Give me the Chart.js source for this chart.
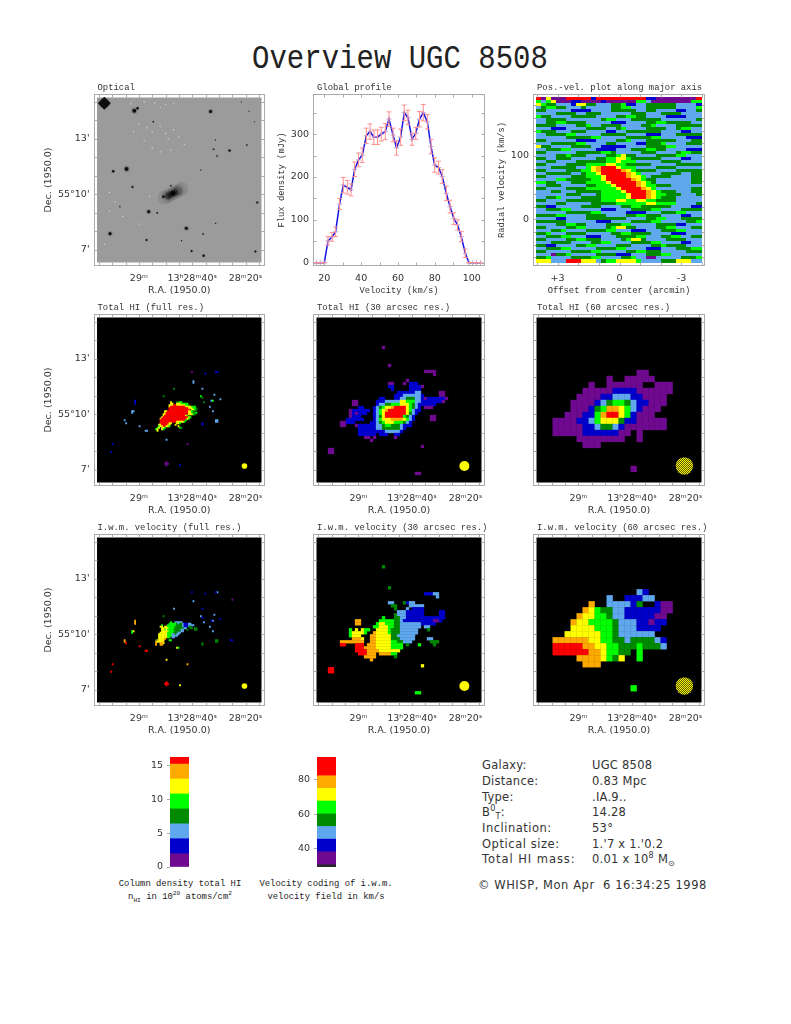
<!DOCTYPE html>
<html>
<head>
<meta charset="utf-8">
<title>Overview UGC 8508</title>
<script src="https://cdn.jsdelivr.net/npm/chart.js@4"></script>
<style>
  body { margin: 0; background: #fff; width: 791px; height: 1024px; overflow: hidden; }
  canvas { position: absolute; }
  .t { position: absolute; white-space: pre; color: #333; font-family: "DejaVu Sans", sans-serif; line-height: 14px; }
  .info { font-size: 11.5px; letter-spacing: .25px; }
  .cap { font: 8.9px/14px "Liberation Mono", monospace; color: #222; text-align: center; width: 180px; }
  sup, sub { font-size: 70%; line-height: 0; }
  #main { left: 0; width: 800px; top: 41px; text-align: center; font: 29px/38px "Liberation Mono", monospace; color: #222; transform: scaleY(1.12); }
</style>
</head>
<body>
<div class="t" id="main">Overview UGC 8508</div>

<div class="t info" style="left:482px;top:758px">Galaxy:</div>
<div class="t info" style="left:592px;top:758px">UGC 8508</div>
<div class="t info" style="left:482px;top:774px">Distance:</div>
<div class="t info" style="left:592px;top:774px">0.83 Mpc</div>
<div class="t info" style="left:482px;top:790px">Type:</div>
<div class="t info" style="left:592px;top:790px">.IA.9..</div>
<div class="t info" style="left:482px;top:805px">B<sup>0</sup><sub>T</sub>:</div>
<div class="t info" style="left:592px;top:805px">14.28</div>
<div class="t info" style="left:482px;top:821px;letter-spacing:.5px">Inclination:</div>
<div class="t info" style="left:592px;top:821px">53°</div>
<div class="t info" style="left:482px;top:837px;letter-spacing:.55px">Optical size:</div>
<div class="t info" style="left:592px;top:837px">1.'7 x 1.'0.2</div>
<div class="t info" style="left:482px;top:852px;letter-spacing:.95px">Total HI mass:</div>
<div class="t info" style="left:592px;top:852px">0.01 x 10<sup>8</sup> M<sub>⊙</sub></div>
<div class="t info" style="left:478px;top:878px;letter-spacing:.55px">© WHISP, Mon Apr  6 16:34:25 1998</div>

<div class="t cap" style="left:90px;top:877px">Column density total HI</div>
<div class="t cap" style="left:90px;top:890px">n<sub>HI</sub> in 10<sup>20</sup> atoms/cm<sup>2</sup></div>
<div class="t cap" style="left:236px;top:877px">Velocity coding of i.w.m.</div>
<div class="t cap" style="left:236px;top:890px">velocity field in km/s</div>

<script>
// colour codes used in the map strings below
const codeColors = { 1: "#6f0a90", 2: "#0000cc", 3: "#60a8ee", 4: "#008a00", 5: "#00ff00", 6: "#ffff00", 7: "#ffaa00", 8: "#ff0000" };

// global profile
const velocity = [15.8,17.8,20,22,24.2,26.1,28.3,30.3,32.5,34.5,36.5,38.6,40.6,42.8,44.8,46.9,48.9,50.9,53.1,55.1,57.3,59.2,61.4,63.4,65.4,67.6,69.6,71.7,73.7,75.9,77.9,79.9,82,84,86.2,88.2,90.3,92.3,94.3,96.5,98.5,100.6,102.6,104.8];
const flux = [0,0,0,51,60,72,137,181,176,170,218,240,251,296,306,293,293,300,306,335,298,268,293,350,339,288,302,335,350,329,271,228,222,201,162,131,103,88,61,22,0,0,0,0];
const fluxErr = [0,0,0,10,10,11,13,18,16,14,17,16,17,18,18,17,17,16,19,17,16,17,19,18,17,14,14,18,19,17,17,17,15,16,17,15,14,12,12,10,0,0,0,0];

// optical image: stars as RA seconds past 13h28m, Dec arcmin past 55 deg
const starRa = [72.95,61.7,60.5,33.1,54.6,31.3,26,32,30.7,19.5,64.6,69.6,36.8,62.4,48,50.8,56.3,53.1,15.6,42.2,31.2,35.9,70.8,57.1,44,40.2,35.7,16.3,67.1,21.6,18.7,16.6];
const starDec = [14.93,14.53,14.66,14.49,13.93,12.94,12.37,12.44,12.08,12.67,11.38,11.25,11.32,10.4,10.47,9.88,9.07,9,9.57,8.17,8.44,7.86,7.88,7.54,7.5,6.94,6.69,6.91,9.34,15,14.5,13.93];
const starSize = [3.5,2,1.2,1.6,.8,.6,1.2,.8,.8,.8,2,1.2,.6,1,.8,1.2,1.6,.8,1,1.6,.6,.8,1.6,1,.6,1,1.2,1,.6,.5,.5,.5];
const galaxyRa = [50.3,49,47.8,46.5,45.3,44];
const galaxyDec = [9.83,9.92,10.02,10.1,10.2,10.3];
const hotRa = [63,58,54,52,50,47,60,57,55,52,50,49,47,45,43,62,58,55,52,48,71,69,71,66,60,56,72.9];
const hotDec = [14.9,15,14.95,14.7,14.85,14.9,13.8,13.6,13.4,13.7,13.3,13,13.5,13.1,12.7,13.4,12.9,12.5,12.3,12.4,10.1,9.6,9.1,8.8,8.4,9.9,7.3];

// position-velocity slice, one string per velocity row
const pvRows = [
"816111888882888888888822111111118","535611122111121111115531111111155","654433326644333445223344444433332",
"345544333433333445533344444433335","443333322223333444443344333322334","333344443344433333344433344443333",
"544333344444333344554433332222333","334444333333345533344444433333334","334455444433333222333344554444433",
"444433334453344443333445333344444","333222333344443345333344443345533","544433344433332233444444433332233",
"334444553333344444333322233344444","333333444445533333444445533333222","443333332222333344533344444433344",
"333444445533334433332244453333444","644333344443322222333344445533333","334445533333222233344455443333222",
"443333334444455433333444333345544","333344544433334456443333444455333","443344433333445566544444433332233",
"334433334444445565553333344443333","443333444455556655444443333344444","333444443356788865553333444433333",
"443333444556788887654444333344444","334444433455688888765333344443344","443333344455568888766534444333344",
"333355444445568888876544333333344","554433344455556888887654333333344","334443333344555688887655444333333",
"443333444455555568888765333333344","333443334444455556888876544433344","333333444333455555688876554443334",
"334453333444455555688876544433333","443333444444455566556655444433333","333344333334444455555566555533334",
"442233333444433334455444444333322","334445533333322233344445533334444","333333444445533333222233344455333",
"444455333344443333445544433332233","333322333344444444333344553334444","444444333333222333344445533333445",
"333344554433334445533333444422333","443333445533334566443333445533344","333445333344445533322233344455333",
"445333444433333445544443333222333","334445533322233344445533344553344","443333445544433334566433334444333",
"333444433334455333344445533332233","442233334455333344433334454444333","334445533333444455333322233344455",
"443333344445533333445544433333444","333144533333444422233344455333333","445333344445533334453311333334445",
"666333888666345566665333344466633"];

// total HI maps
const coreTotal = [
"..........6...4455","..........66..66655555",".........66688666666554",".........688888888886666555",
".........8888888888888666554",".........88888888888888.6654","......66888888888888886654","......6888888888888888665.55",
".....6688888888888888866654",".....68888888888888865","....68888888888888888865","...68888888888888888865",
"...888888888888888885","...88888888888666665","...88888866...665","..66888876...6","..56688665.....6",
".56.665.........54","56..65",".6"];
const specksTotal = [[63,36,1],[72,37,2],[80,36,2],[79,36,2],[64,42,3],[64,43,3],[70,47,3],[51,47,4],[44,52,4],[69,52,5],[70,53,4],[71,56,4],[78,51,3],[82,54,3],[76,55,3],[77,55,5],[75,59,3],[77,62,3],[25,55,2],[25,56,2],[25,57,2],[23,62,3],[23,63,3],[24,62,3],[18,68,3],[19,70,3],[28,72,3],[32,75,3],[33,75,3],[46,81,3],[70,70,2],[70,71,2],[79,68,3],[80,68,3],[79,69,3],[80,69,3],[60,84,1],[10,84,2],[9,89,2],[46,96,1],[45,97,1],[46,97,1],[47,97,1],[46,98,1],[55,98,2]];
const map30 = [
"..................1","","","","","","....................1","",
"................................1111","...................................1","",
"..........................1","....................11...1.222","....................22.....22221",
".....................2.....2222",".......................22222233......11","......................2223333332.....11",
".................22...223344433212222221","........11......22233333665553322222221","........11......23344555666543222222",
"..........22...2345667888865432.111",".......1222222.2356788888865322",".......121222..235688888886432",
".......1222....23468888885432.....11","......222222...23566677776532.....11","....11222.....22345666555432",
"....11...1222222334554443222","..........2222223344444432","..........222222222333332","..........222222.222..22",
"............11.1......1","..............1","","...............................1","11","11","","","","","","",".............................11"];
const map60 = [
"..............11",".........1..11111","......1..111111..111",".....111112222111111","....1111223332" + "21111",
"...1111234554322111","...111245776532111","..111225788652111","1111223566642211111","1111122344321111111",
"1111122222211.1","....11111111..1",".....111","","","",".............1"];

// velocity maps
const coreVel = [
"..........5..33333",".........555554344322233","....5...555555444432223333","...66.665555544444322244",
"....66666555544444433..44","....665655554444433..4","....666665555444433","...66666555544433","..66666655533433",
"..6666665553333","..66666655.33","..66667","476666...55","766667","7..776","7..77","","..............65"];
const specksVel = [[63,36,2],[72,37,2],[80,36,3],[79,36,2],[90,41,1],[64,42,3],[51,47,3],[44,52,4],[70,47,2],[69,52,3],[70,53,2],[78,51,3],[77,55,3],[76,55,2],[71,56,3],[82,54,2],[75,59,3],[77,62,3],[65,60,4],[65,61,4],[66,60,4],[66,61,4],[70,70,4],[70,71,4],[79,68,4],[80,68,4],[79,69,4],[80,69,4],[89,68,2],[90,68,2],[25,55,7],[25,56,7],[25,57,7],[23,62,5],[23,63,5],[24,62,6],[18,68,7],[18,69,7],[19,70,8],[28,72,8],[32,75,8],[33,75,8],[10,84,8],[9,89,8],[46,81,6],[60,84,7],[46,96,8],[45,97,8],[46,97,8],[47,97,8],[46,98,8],[55,98,6]];
const vel30 = [
"","..................4","","","","","","","....................4","",
"................................22233","....................................3","",
"....................33...4233",".....................44....33333","......................4...3.2222",
".......................333222222.....22","......................4333222222.....22","..................5...44332222222222222",
".........77......5555544322222222221" + "12",".........77.....566555443333333" + "22222",
"...............5566655443333333.33",".......5.6.655..66665444333333...4",".......566665..766665444333333",
".......5666...776666644333333","........7776..776666644433333....33","....77777777..7766666" + "5544333......444",
"....88...888.777666665555.4...5....4",".........888777766666" + "5555",".........888877776666666",
"..........888777.777755","............7777......4","..............7","","...............................6","88","88","","","","","","",".............................55"];
const vel60 = [
"..............32",".........3..22233","......7..333324..211",".....765443322222211","....766554332222211",
"...7665555433322122","...666655543332222","..666666554333333","77777766554434444" + "32","888887766554445" + "4443",
"8888887765544.5","....77776546..5",".....777","","","",".............5"];

// colour bars
const densityEdges = [0,1.96,4.16,6.36,8.56,10.76,12.96,15.16,16.2];
const densityColors = ["#6f0a90","#0000cc","#60a8ee","#008a00","#00ff00","#ffff00","#ffaa00","#ff0000"];
const densityTicks = [0,5,10,15];
const velEdges = [29.2,30.5,38.1,45.4,52.8,60.1,67.6,75,82.3,93.2];
const velColors = ["#2a2a2a","#6f0a90","#0000cc","#60a8ee","#008a00","#00ff00","#ffff00","#ffaa00","#ff0000"];
const velTicks = [40,60,80];

// axis ticks
const raTicks = [60,40,20];
const raLabels = { 60: "29ᵐ", 40: "13ʰ28ᵐ40ˢ", 20: "28ᵐ20ˢ" };
const raMinor = [75,70,65,60,55,50,45,40,35,30,25,20,15];
const decTicks = [13,10,7];
const decLabels = { 13: "13'", 10: "55°10'", 7: "7'" };
const decMinor = [15,14,13,12,11,10,9,8,7];

const textColor = "#333";
const tickFont = { family: "DejaVu Sans", size: 9.5 };
const sansLabel = { family: "DejaVu Sans", size: 9.5 };
const monoLabel = { family: "Liberation Mono", size: 8.8 };
Chart.defaults.animation = false;
Chart.defaults.events = [];

// frame, inner image block and small inward ticks
const framePlugin = {
  id: "frame",
  afterLayout(chart) {
    if (chart.titleBlock) { chart.titleBlock.left += 4; chart.titleBlock.right += 4; }
  },
  beforeDatasetsDraw(chart, args, opts) {
    if (!opts.image) return;
    const a = chart.chartArea, ctx = chart.ctx;
    ctx.fillStyle = opts.image;
    ctx.fillRect(a.left + 3.5, a.top + 3.5, a.width - 7, a.height - 7);
  },
  afterDraw(chart, args, opts) {
    const a = chart.chartArea, ctx = chart.ctx;
    const l = Math.round(a.left) + .5, t = Math.round(a.top) + .5, r = Math.round(a.right) - .5, b = Math.round(a.bottom) - .5;
    ctx.save();
    ctx.strokeStyle = "#aaa";
    ctx.lineWidth = 1;
    ctx.strokeRect(l, t, r - l, b - t);
    ctx.beginPath();
    (opts.xMinor || []).forEach(v => {
      const x = Math.round(chart.scales.x.getPixelForValue(v)) + .5;
      ctx.moveTo(x, b); ctx.lineTo(x, b - 3);
      ctx.moveTo(x, t); ctx.lineTo(x, t + 3);
    });
    (opts.yMinor || []).forEach(v => {
      const y = Math.round(chart.scales.y.getPixelForValue(v)) + .5;
      ctx.moveTo(l, y); ctx.lineTo(l + 3, y);
      ctx.moveTo(r, y); ctx.lineTo(r - 3, y);
    });
    ctx.stroke();
    ctx.restore();
  }
};

// one scatter dataset of square cells from a string grid, origin is the top left edge in data units
function gridCells(rows, ra0, dec0, dRa, dDec, side) {
  const data = [], colors = [];
  rows.forEach((row, r) => {
    [...row].forEach((ch, c) => {
      if (ch === ".") return;
      data.push({ x: ra0 - (c + .5) * dRa, y: dec0 - (r + .5) * dDec });
      colors.push(codeColors[ch]);
    });
  });
  return { data, pointStyle: "rect", pointRadius: (side + .3) / Math.SQRT2, pointBorderWidth: 0, pointBackgroundColor: colors };
}

function speckCells(specks, ra0, dec0, dRa, dDec, side) {
  return {
    data: specks.map(s => ({ x: ra0 - (s[0] + .5) * dRa, y: dec0 - (s[1] + .5) * dDec })),
    pointStyle: "rect", pointRadius: (side + .3) / Math.SQRT2, pointBorderWidth: 0,
    pointBackgroundColor: specks.map(s => codeColors[s[2]])
  };
}

function beam(radius, color) {
  return { data: [{ x: 20.4, y: 7.21 }], pointRadius: radius, pointBorderWidth: 0, pointBackgroundColor: color };
}

function axisScale(o) {
  return {
    type: "linear", min: o.min, max: o.max, reverse: !!o.reverse,
    grid: { display: false, drawTicks: false }, border: { display: false },
    afterBuildTicks(s) { s.ticks = o.ticks.map(v => ({ value: v })); },
    ticks: {
      display: !!o.labels, autoSkip: false, maxRotation: 0, minRotation: 0, padding: o.pad, color: textColor, font: tickFont,
      callback: v => (o.labels ? (o.labels[v] !== undefined ? o.labels[v] : String(v)) : "")
    },
    title: { display: !!o.title, text: o.title || "", color: textColor, font: o.titleFont || sansLabel, padding: { top: 0, bottom: o.titlePad || 0 } },
    afterFit(s) {
      o.afterFit(s);
      s.paddingLeft = s.paddingRight = s.paddingTop = s.paddingBottom = 0;
    }
  };
}

// one panel: frame at (fx, fy), 172 px square, w is room kept left of it for the y axis
function panel(fx, fy, w, titleText, datasets, o) {
  const cv = document.createElement("canvas");
  const left = Math.floor(fx - w), extra = fx - w - left;
  cv.width = w + 172 + 16; cv.height = 20 + 172 + 31;
  cv.style.left = left + "px"; cv.style.top = (fy - 20) + "px";
  cv.style.width = cv.width + "px"; cv.style.height = cv.height + "px";
  document.body.appendChild(cv);
  new Chart(cv, {
    type: "scatter",
    data: { datasets },
    options: {
      responsive: false, devicePixelRatio: 1,
      layout: { autoPadding: false, padding: { left: extra, right: 16 - extra, top: 0, bottom: 1 } },
      plugins: {
        legend: { display: false }, tooltip: { enabled: false },
        title: { display: true, text: titleText, align: "start", fullSize: false, color: textColor, font: { family: "Liberation Mono", size: 8.9, weight: "normal", lineHeight: 1.2 }, padding: { top: 8, bottom: 1.32 } },
        frame: { image: o.image, xMinor: o.xMinor, yMinor: o.yMinor }
      },
      scales: {
        x: axisScale(Object.assign({}, o.x, { pad: 7, afterFit(s) { s.height = 30; } })),
        y: axisScale(Object.assign({}, o.y, { pad: 4, afterFit(s) { s.width = w; } }))
      }
    },
    plugins: [framePlugin]
  });
}

const raAxis = { min: 12.7, max: 77, reverse: true, ticks: raTicks, labels: raLabels, title: "R.A. (1950.0)" };
const decAxis = { min: 6.13, max: 15.43, ticks: decTicks, labels: decLabels, title: "Dec. (1950.0)", titlePad: 5 };
const decBare = { min: 6.13, max: 15.43, ticks: decTicks };
const mapOpts = y => ({ image: "#000", xMinor: raMinor, yMinor: decMinor, x: raAxis, y });

// hatched beam of the 60 arcsec maps
function hatch() {
  const c = document.createElement("canvas");
  c.width = 2; c.height = 2;
  const g = c.getContext("2d");
  g.fillStyle = "#ffff00"; g.fillRect(0, 0, 2, 2);
  g.fillStyle = "#55550a"; g.fillRect(0, 0, 1, 1); g.fillRect(1, 1, 1, 1);
  return g.createPattern(c, "repeat");
}

// top row
const stars = [];
stars.push({ data: hotRa.map((x, i) => ({ x, y: hotDec[i] })), pointRadius: .6, pointBorderWidth: 0, pointBackgroundColor: "#e8e8e8" });
stars.push({ data: starRa.map((x, i) => ({ x, y: starDec[i] })), pointRadius: starSize.map(s => s * 1.7), pointBorderWidth: 0, pointBackgroundColor: "rgba(0,0,0,.13)" });
stars.push({ data: galaxyRa.map((x, i) => ({ x, y: galaxyDec[i] })), pointRadius: 7, pointBorderWidth: 0, pointBackgroundColor: "rgba(0,0,0,.09)" });
stars.push({ data: galaxyRa.slice(1, 5).map((x, i) => ({ x, y: galaxyDec[i + 1] })), pointRadius: 4.5, pointBorderWidth: 0, pointBackgroundColor: "rgba(0,0,0,.18)" });
stars.push({ data: galaxyRa.slice(1, 4).map((x, i) => ({ x, y: galaxyDec[i + 1] })), pointRadius: 3, pointBorderWidth: 0, pointBackgroundColor: "rgba(0,0,0,.4)" });
stars.push({ data: starRa.map((x, i) => ({ x, y: starDec[i] })), pointRadius: starSize, pointBorderWidth: 0, pointBackgroundColor: "#111" });
stars.push({ data: [{ x: starRa[0], y: starDec[0] }], pointStyle: "rectRot", pointRadius: 6.5, pointBorderWidth: 0, pointBackgroundColor: "#111" });
stars.push({ data: [{ x: 47.2, y: 10.06 }], pointRadius: 2.5, pointBorderWidth: 0, pointBackgroundColor: "#222" });
panel(93.5, 94, 50.5, "Optical", stars, { image: "#9b9b9b", xMinor: raMinor, yMinor: decMinor, x: raAxis, y: decAxis });

const errorBars = [];
velocity.forEach((v, i) => {
  errorBars.push({ x: v, y: flux[i] - fluxErr[i] }, { x: v, y: flux[i] + fluxErr[i] }, { x: NaN, y: NaN });
});
panel(313, 94, 37, "Global profile", [
  { data: errorBars, showLine: true, borderColor: "#ff9090", borderWidth: 1, pointStyle: "line", pointRadius: 2.4, pointBorderColor: "#ff9090", pointBorderWidth: 1 },
  { data: velocity.map((x, i) => ({ x, y: flux[i] })), showLine: true, tension: 0, borderColor: "#1515e6", borderWidth: 1.5, pointStyle: "cross", pointRadius: 2.6, pointBorderColor: "#b48ccf", pointBorderWidth: .8 }
], {
  xMinor: [20,30,40,50,60,70,80,90,100], yMinor: [0,50,100,150,200,250,300,350],
  x: { min: 13.87, max: 107.2, ticks: [20,40,60,80,100], labels: { 20: "20", 40: "40", 60: "60", 80: "80", 100: "100" }, title: "Velocity (km/s)", titleFont: monoLabel },
  y: { min: -7.7, max: 393.7, ticks: [0,100,200,300], labels: { 0: "0", 100: "100", 200: "200", 300: "300" }, title: "Flux density (mJy)", titleFont: monoLabel }
});

// position-velocity cells are wider than tall, so they use small canvases as point styles
const pvStyles = {};
Object.keys(codeColors).forEach(k => {
  const c = document.createElement("canvas");
  c.width = 6; c.height = 4;
  const g = c.getContext("2d");
  g.fillStyle = codeColors[k]; g.fillRect(0, 0, 6, 4);
  pvStyles[k] = c;
});
const pvData = [], pvPoint = [];
pvRows.forEach((row, r) => {
  [...row].forEach((ch, c) => {
    pvData.push({ x: 4.02 - (c + .5) * .2419, y: 192.5 - (r + .5) * 4.74 });
    pvPoint.push(pvStyles[ch]);
  });
});
panel(533, 94, 37, "Pos.-vel. plot along major axis", [{ data: pvData, pointStyle: pvPoint, pointRadius: 3, pointBorderWidth: 0 }], {
  image: "#60a8ee", xMinor: [4,3,2,1,0,-1,-2,-3,-4], yMinor: [180,160,140,120,100,80,60,40,20,0,-20,-40,-60],
  x: { min: -4.14, max: 4.19, reverse: true, ticks: [3,0,-3], labels: { 3: "+3", 0: "0", "-3": "-3" }, title: "Offset from center (arcmin)", titleFont: monoLabel },
  y: { min: -73.8, max: 198, ticks: [100,0], labels: { 100: "100", 0: "0" }, title: "Radial velocity (km/s)", titleFont: monoLabel }
});

// full res grid: 1.5 px cells from the image corner
const fullRa0 = 75.69, fullDec0 = 15.241, fullDRa = .5607, fullDDec = .0811;
const coreRa0 = fullRa0 - 39 * fullDRa, coreDec0 = fullDec0 - 56 * fullDDec;

panel(93.5, 314, 50.5, "Total HI (full res.)", [
  gridCells(coreTotal, coreRa0, coreDec0, fullDRa, fullDDec, 1.5),
  speckCells(specksTotal, fullRa0, fullDec0, fullDRa, fullDDec, 1.5),
  beam(2.8, "#ffff00")
], mapOpts(decAxis));
panel(313, 314, 2, "Total HI (30 arcsec res.)", [
  gridCells(map30, 71.39, 13.7, 1.1215, .1622, 3),
  beam(5, "#ffff00")
], mapOpts(decBare));
panel(533, 314, 2, "Total HI (60 arcsec res.)", [
  gridCells(map60, 69.65, 12.403, 2.243, .3243, 6),
  beam(8.7, hatch())
], mapOpts(decBare));

panel(93.5, 534, 50.5, "I.w.m. velocity (full res.)", [
  gridCells(coreVel, coreRa0, coreDec0, fullDRa, fullDDec, 1.5),
  speckCells(specksVel, fullRa0, fullDec0, fullDRa, fullDDec, 1.5),
  beam(2.8, "#ffff00")
], mapOpts(decAxis));
panel(313, 534, 2, "I.w.m. velocity (30 arcsec res.)", [
  gridCells(vel30, 71.39, 13.9, 1.1215, .1622, 3),
  beam(5, "#ffff00")
], mapOpts(decBare));
panel(533, 534, 2, "I.w.m. velocity (60 arcsec res.)", [
  gridCells(vel60, 69.65, 12.44, 2.243, .3243, 6),
  beam(8.7, hatch())
], mapOpts(decBare));

// colour bars as floating bars on a value axis
function colorBar(barLeft, edges, colors, ticks) {
  const cv = document.createElement("canvas");
  cv.width = 30 + 19 + 2; cv.height = 110 + 12;
  cv.style.left = (barLeft - 30) + "px"; cv.style.top = "751px";
  cv.style.width = cv.width + "px"; cv.style.height = cv.height + "px";
  document.body.appendChild(cv);
  new Chart(cv, {
    type: "bar",
    data: {
      labels: ["scale"],
      datasets: colors.map((c, i) => ({ data: [[edges[i], edges[i + 1]]], backgroundColor: c, barPercentage: 1, categoryPercentage: 1 }))
    },
    options: {
      responsive: false, devicePixelRatio: 1,
      layout: { autoPadding: false, padding: { top: 6, bottom: 6, right: 2 } },
      plugins: { legend: { display: false }, tooltip: { enabled: false } },
      scales: {
        x: { display: false, stacked: true },
        y: {
          min: edges[0], max: edges[edges.length - 1],
          border: { display: false },
          grid: { drawOnChartArea: false, color: "#aaa", tickLength: 3 },
          afterBuildTicks(s) { s.ticks = ticks.map(v => ({ value: v })); },
          ticks: { color: textColor, font: tickFont, padding: 4 },
          afterFit(s) { s.width = 30; s.paddingTop = s.paddingBottom = 0; }
        }
      }
    }
  });
}
colorBar(170, densityEdges, densityColors, densityTicks);
colorBar(317, velEdges, velColors, velTicks);
</script>
</body>
</html>
